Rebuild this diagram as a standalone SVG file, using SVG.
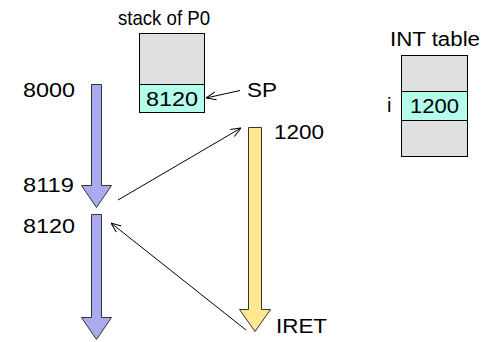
<svg xmlns="http://www.w3.org/2000/svg" width="493" height="342" viewBox="0 0 493 342">
<style>
text{font-family:"Liberation Sans",Arial,sans-serif;font-size:20px;fill:#000}
.gray{fill:#e0e0e0;stroke:#000;stroke-width:1}
.cyan{fill:#b3ffec;stroke:#000;stroke-width:1}
.blue{fill:#aaaaee;stroke:#333;stroke-width:1}
.yellow{fill:#ffe890;stroke:#333;stroke-width:1}
.conn{stroke:#000;stroke-width:1;fill:none;marker-end:url(#open)}
</style>
<defs>
<marker id="open" viewBox="0 0 10 10" refX="10" refY="5" markerWidth="10" markerHeight="10" orient="auto" markerUnits="userSpaceOnUse">
<path d="M0,1 L10,5 L0,9" fill="none" stroke="#000" stroke-width="1"/>
</marker>
</defs>
<rect width="493" height="342" fill="#fff"/>
<g id="stack">
<text x="118" y="25" textLength="92" lengthAdjust="spacingAndGlyphs" style="font-size:21px">stack of P0</text>
<rect class="gray" x="139.5" y="33.5" width="65" height="51"/>
<rect class="cyan" x="139.5" y="84.5" width="65" height="28"/>
<text x="146" y="106" textLength="52" lengthAdjust="spacingAndGlyphs">8120</text>
</g>
<g id="sp">
<text x="247" y="97" textLength="30" lengthAdjust="spacingAndGlyphs">SP</text>
</g>
<g id="inttable">
<text x="390" y="46" textLength="90" lengthAdjust="spacingAndGlyphs">INT table</text>
<rect class="gray" x="401.5" y="55.5" width="66" height="101"/>
<rect class="cyan" x="401.5" y="91.5" width="66" height="29"/>
<text x="410" y="113" textLength="49" lengthAdjust="spacingAndGlyphs">1200</text>
<text x="387" y="112">i</text>
</g>
<g id="blue1">
<path class="blue" d="M91.5,84.5 H101.5 V185.5 H111.5 L96.5,207.5 L81.5,185.5 H91.5 Z"/>
<text x="23" y="97" textLength="52" lengthAdjust="spacingAndGlyphs">8000</text>
<text x="23" y="192" textLength="51" lengthAdjust="spacingAndGlyphs">8119</text>
</g>
<g id="blue2">
<path class="blue" d="M91.5,214.5 H101.5 V317.5 H111.5 L96.5,339.5 L81.5,317.5 H91.5 Z"/>
<text x="23" y="233" textLength="52" lengthAdjust="spacingAndGlyphs">8120</text>
</g>
<g id="yellow">
<path class="yellow" d="M248.5,127.5 H261.5 V309.5 H270.5 L255,331.5 L239.5,309.5 H248.5 Z"/>
<text x="274" y="139" textLength="50" lengthAdjust="spacingAndGlyphs">1200</text>
<text x="276" y="333" textLength="51" lengthAdjust="spacingAndGlyphs">IRET</text>
</g>
<g id="connectors">
<line class="conn" x1="240" y1="90.5" x2="206" y2="98"/>
<line class="conn" x1="118" y1="200" x2="241" y2="128"/>
<line class="conn" x1="246" y1="330" x2="111" y2="223"/>
</g>
</svg>
